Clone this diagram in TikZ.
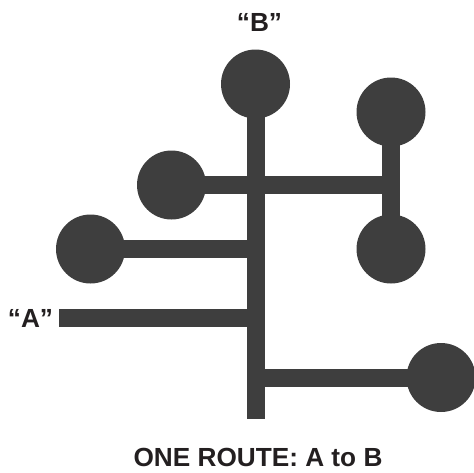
\documentclass[tikz,border=0pt]{standalone}
\usepackage{fontspec}
\setmainfont{Liberation Sans}
\definecolor{route}{RGB}{62,62,62}
\definecolor{ink}{RGB}{35,31,32}
\tikzset{
  stop/.style={circle,fill=route,minimum size=69pt,inner sep=0pt},
  track/.style={route,line width=18pt},
  lbl/.style={ink,anchor=base,inner sep=0pt,text depth=0pt,
    font=\fontsize{26.2}{31}\selectfont\bfseries}
}
\begin{document}
\begin{tikzpicture}[x=1pt,y=-1pt]
\useasboundingbox (0,0) rectangle (474,472);

% stops
\node[stop] (b) at (255.5,84) {};
\node[stop] (rt) at (391,112) {};
\node[stop] (rb) at (391,249) {};
\node[stop] (m) at (171.5,185) {};
\node[stop] (l) at (90.5,249) {};
\node[stop] (r) at (441,377.5) {};

\coordinate (end) at (255.5,419);
\coordinate (a) at (59.3,318.3);

% tracks
\draw[track] (b.center) -- (end);
\draw[track] (rt.center) -- (rb.center);
\draw[track] (m.center) -- (m.center -| rt.center);
\draw[track] (l.center) -- (l.center -| b.center);
\draw[track] (a) -- (a -| b.center);
\draw[track] (r.center) -- (r.center -| b.center);

% labels
\node[lbl] (lb) at (259.5,31.7) {“B”};
\node[lbl] (la) at (30.5,327) {“A”};
\node[lbl] (title) at (258,466) {ONE ROUTE: A to B};
\end{tikzpicture}
\end{document}
